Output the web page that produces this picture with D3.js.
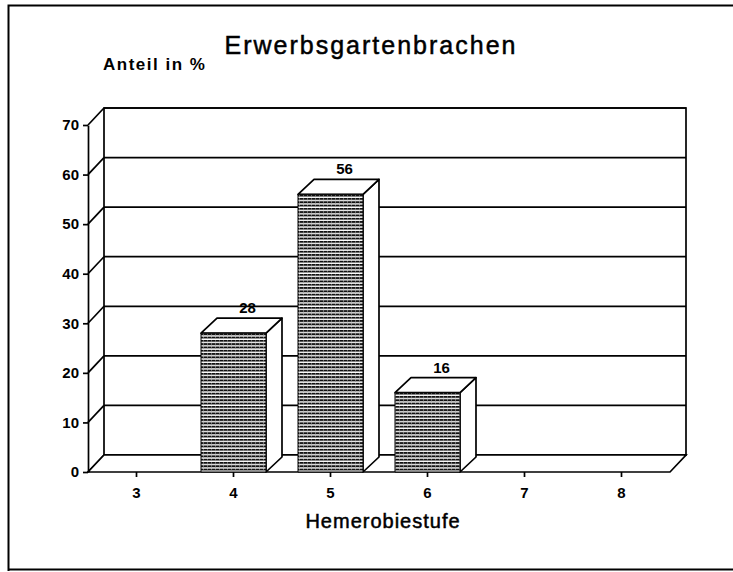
<!DOCTYPE html>
<html>
<head>
<meta charset="utf-8">
<script src="https://cdn.jsdelivr.net/npm/d3@7"></script>
<style>
  html, body { margin: 0; padding: 0; background: #fff; }
  svg { display: block; font-family: "Liberation Sans", Arial, Helvetica, sans-serif; }
</style>
</head>
<body>
<svg id="chart" width="733" height="572"></svg>
<script>
// ---- data ----
const title = "Erwerbsgartenbrachen";
const yLabel = "Anteil in %";
const xLabel = "Hemerobiestufe";
const categories = ["3", "4", "5", "6", "7", "8"];
const values = [0, 28, 56, 16, 0, 0];
const valueLabels = ["", "28", "56", "16", "", ""];
const yTicks = [0, 10, 20, 30, 40, 50, 60, 70];

(function () {
// ---- layout ----
const svg = d3.select("#chart");
const pLeft = 88, pRight = 670, pBottom = 472, pTop = 125;
const wdx = 16, wdy = -17;   // wall depth
const bdx = 16, bdy = -15;   // bar depth

const x = d3.scaleBand().domain(categories).range([pLeft, pRight]).paddingInner(0.33).paddingOuter(0.165);
const y = d3.scaleLinear().domain([0, 70]).range([pBottom, pTop]);

// pattern for bars
const defs = svg.append("defs");
const pat = defs.append("pattern").attr("id", "hatch").attr("patternUnits", "userSpaceOnUse")
  .attr("width", 4).attr("height", 3.3);
pat.append("rect").attr("width", 4).attr("height", 3.3).attr("fill", "#fff");
pat.append("rect").attr("y", 0).attr("width", 4).attr("height", 1.9).attr("fill", "#111");
pat.append("rect").attr("x", 3).attr("y", 0).attr("width", 1).attr("height", 1.9).attr("fill", "#666");

// outer frame (left, top, bottom)
svg.append("path").attr("d", "M8.5,571 L8.5,5.5 L733,5.5 M8.5,569.5 L733,569.5")
  .attr("fill", "none").attr("stroke", "#000").attr("stroke-width", 2);

// title texts
svg.append("text").attr("x", 371).attr("y", 54).attr("text-anchor", "middle")
  .attr("font-size", 25).attr("letter-spacing", 2).attr("fill", "#000")
  .attr("stroke", "#000").attr("stroke-width", 0.5).text(title);
svg.append("text").attr("x", 103).attr("y", 70).attr("font-size", 17).attr("font-weight", "bold")
  .attr("letter-spacing", 1.5).attr("fill", "#000").text(yLabel);
svg.append("text").attr("x", 383).attr("y", 528).attr("text-anchor", "middle")
  .attr("font-size", 20).attr("letter-spacing", 1).attr("fill", "#000")
  .attr("stroke", "#000").attr("stroke-width", 0.5).text(xLabel);

const g = svg.append("g").attr("stroke", "#000").attr("stroke-width", 1.7).attr("fill", "none");

// back wall
g.append("rect").attr("x", pLeft + wdx).attr("y", y(70) + wdy)
  .attr("width", pRight - pLeft).attr("height", y(0) - y(70)).attr("fill", "#fff");
// gridlines on back wall + diagonals on left wall
yTicks.forEach(t => {
  g.append("line").attr("x1", pLeft + wdx).attr("x2", pRight + wdx)
    .attr("y1", y(t) + wdy).attr("y2", y(t) + wdy);
  g.append("line").attr("x1", pLeft).attr("y1", y(t)).attr("x2", pLeft + wdx).attr("y2", y(t) + wdy);
});
// floor
g.append("path").attr("fill", "#fff")
  .attr("d", `M${pLeft},${y(0)} L${pRight},${y(0)} L${pRight + wdx},${y(0) + wdy} L${pLeft + wdx},${y(0) + wdy} Z`);

// y axis
const yAxis = svg.append("g").attr("transform", `translate(${pLeft},0)`)
  .call(d3.axisLeft(y).tickValues(yTicks).tickSize(5).tickSizeOuter(0).tickPadding(4));
yAxis.select(".domain").attr("stroke", "#000").attr("stroke-width", 1.7);
yAxis.selectAll(".tick line").attr("stroke", "#000").attr("stroke-width", 1.7);
yAxis.selectAll(".tick text").attr("font-size", 15).attr("font-weight", "bold")
  .attr("font-family", "Liberation Sans, Arial, sans-serif").attr("fill", "#000");

// x axis
const xAxis = svg.append("g").attr("transform", `translate(0,${pBottom})`)
  .call(d3.axisBottom(x).tickSize(5).tickPadding(10));
xAxis.select(".domain").remove();
xAxis.selectAll(".tick line").attr("stroke", "#000").attr("stroke-width", 1.7);
xAxis.selectAll(".tick text").attr("font-size", 15).attr("font-weight", "bold")
  .attr("font-family", "Liberation Sans, Arial, sans-serif").attr("fill", "#000");

// bars
const bars = categories.map((c, i) => ({ c, v: values[i], lab: valueLabels[i] })).filter(d => d.v > 0);
const bg = svg.append("g").attr("stroke", "#000").attr("stroke-width", 1.7).attr("stroke-linejoin", "round");
bars.forEach(d => {
  const x0 = x(d.c), x1 = x(d.c) + x.bandwidth(), yt = y(d.v), yb = y(0);
  // side face
  bg.append("path").attr("fill", "#fff")
    .attr("d", `M${x1},${yb} L${x1},${yt} L${x1 + bdx},${yt + bdy} L${x1 + bdx},${yb + bdy} Z`);
  // top face
  bg.append("path").attr("fill", "#fff")
    .attr("d", `M${x0},${yt} L${x0 + bdx},${yt + bdy} L${x1 + bdx},${yt + bdy} L${x1},${yt} Z`);
  // front face
  bg.append("rect").attr("x", x0).attr("y", yt).attr("width", x.bandwidth()).attr("height", yb - yt)
    .attr("fill", "url(#hatch)").attr("stroke-width", 1);
  // value label
  svg.append("text").attr("x", x0 + x.bandwidth() / 2 + 14).attr("y", yt + bdy - 5)
    .attr("text-anchor", "middle").attr("font-size", 15).attr("font-weight", "bold")
    .attr("fill", "#000").text(d.lab);
});
})();
</script>
</body>
</html>
